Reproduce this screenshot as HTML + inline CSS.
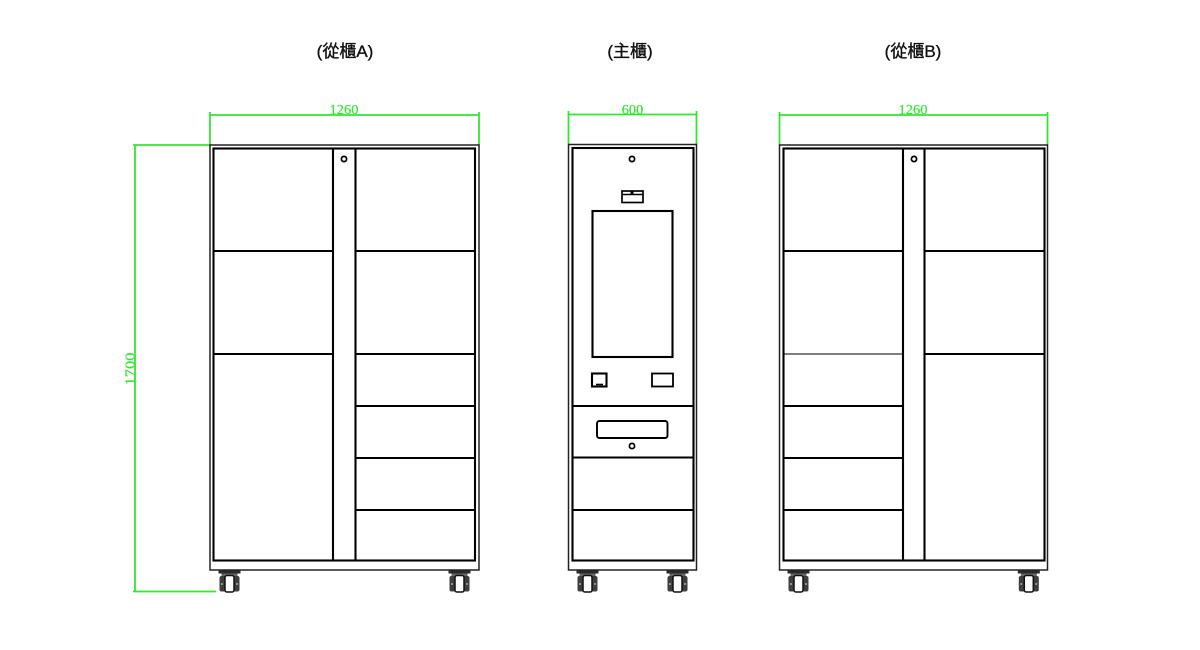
<!DOCTYPE html>
<html>
<head>
<meta charset="utf-8">
<style>
  html,body{margin:0;padding:0;background:#fff;}
  svg{display:block;}
  .t{font-family:"Liberation Sans","Noto Sans CJK TC",sans-serif;font-size:17px;fill:#111;stroke:#111;stroke-width:0.35;}
  .d{font-family:"Liberation Serif",serif;font-size:14px;fill:#33e633;stroke:#33e633;stroke-width:0.2;}
</style>
</head>
<body>
<svg width="1200" height="650" viewBox="0 0 1200 650" xmlns="http://www.w3.org/2000/svg">
  <rect width="1200" height="650" fill="#fff"/>

  <!-- Titles -->
  <text class="t" x="345" y="57" text-anchor="middle">(從櫃A)</text>
  <text class="t" x="630" y="57" text-anchor="middle">(主櫃)</text>
  <text class="t" x="913" y="57" text-anchor="middle">(從櫃B)</text>

  <!-- Green dimensions -->
  <g stroke="#33e633" stroke-width="1.8" fill="none">
    <line x1="210" y1="115" x2="479" y2="115"/>
    <line x1="210" y1="112" x2="210" y2="145"/>
    <line x1="479" y1="112" x2="479" y2="145"/>

    <line x1="568.5" y1="114.5" x2="696.5" y2="114.5"/>
    <line x1="568.5" y1="111" x2="568.5" y2="144"/>
    <line x1="696.5" y1="111" x2="696.5" y2="144"/>

    <line x1="779.5" y1="115" x2="1047.5" y2="115"/>
    <line x1="779.5" y1="112" x2="779.5" y2="145"/>
    <line x1="1047.5" y1="112" x2="1047.5" y2="145"/>

    <line x1="135" y1="145" x2="135" y2="591.5"/>
    <line x1="133" y1="145" x2="210" y2="145"/>
    <line x1="133" y1="591.5" x2="216" y2="591.5"/>
  </g>
  <text class="d" x="344" y="114" text-anchor="middle" textLength="29" lengthAdjust="spacingAndGlyphs">1260</text>
  <text class="d" x="632.5" y="114" text-anchor="middle" textLength="21.5" lengthAdjust="spacingAndGlyphs">600</text>
  <text class="d" x="913" y="114" text-anchor="middle" textLength="29" lengthAdjust="spacingAndGlyphs">1260</text>
  <text class="d" transform="translate(134.5,369) rotate(-90)" x="0" y="0" text-anchor="middle" textLength="33" lengthAdjust="spacingAndGlyphs">1700</text>

  <!-- Cabinet A -->
  <g fill="none" stroke="#000">
    <rect x="210" y="145" width="269" height="425" stroke-width="1.5" stroke="#222"/>
    <rect x="213.5" y="148.5" width="261.5" height="412" stroke-width="2.1"/>
    <line x1="333" y1="148.5" x2="333" y2="560.5" stroke-width="2.1"/>
    <line x1="355.5" y1="148.5" x2="355.5" y2="560.5" stroke-width="2.1"/>
    <circle cx="344" cy="159" r="2.6" stroke-width="1.7"/>
    <g stroke-width="1.9">
      <line x1="213.5" y1="251" x2="333" y2="251"/>
      <line x1="213.5" y1="354" x2="333" y2="354"/>
      <line x1="355.5" y1="251" x2="475" y2="251"/>
      <line x1="355.5" y1="354" x2="475" y2="354"/>
      <line x1="355.5" y1="406" x2="475" y2="406"/>
      <line x1="355.5" y1="458" x2="475" y2="458"/>
      <line x1="355.5" y1="510" x2="475" y2="510"/>
    </g>
  </g>

  <!-- Main cabinet -->
  <g fill="none" stroke="#000">
    <rect x="568.5" y="144.5" width="128" height="425.5" stroke-width="1.5" stroke="#222"/>
    <rect x="572.5" y="148" width="121" height="412.5" stroke-width="2.1"/>
    <circle cx="632" cy="159" r="2.6" stroke-width="1.7"/>
    <rect x="622" y="191" width="21" height="11.5" stroke-width="1.7"/>
    <line x1="622" y1="194.5" x2="643" y2="194.5" stroke-width="1.4"/>
    <rect x="630.5" y="191" width="3" height="3.5" fill="#000" stroke="none"/>
    <rect x="592.5" y="211" width="80" height="146" stroke-width="2.1"/>
    <rect x="592" y="373.5" width="14.5" height="13" stroke-width="2.1"/>
    <line x1="596" y1="384.5" x2="603" y2="384.5" stroke-width="1.6"/>
    <rect x="652" y="373.5" width="21" height="13" stroke-width="1.8"/>
    <g stroke-width="1.9">
      <line x1="572.5" y1="406" x2="693.5" y2="406"/>
      <line x1="572.5" y1="457.5" x2="693.5" y2="457.5"/>
      <line x1="572.5" y1="510" x2="693.5" y2="510"/>
    </g>
    <rect x="597" y="421" width="70.5" height="17" rx="2.5" stroke-width="1.9"/>
    <circle cx="632" cy="446" r="2.6" stroke-width="1.7"/>
  </g>

  <!-- Cabinet B -->
  <g fill="none" stroke="#000">
    <rect x="779.5" y="145" width="268" height="425" stroke-width="1.5" stroke="#222"/>
    <rect x="783.5" y="148.5" width="261" height="412" stroke-width="2.1"/>
    <line x1="903" y1="148.5" x2="903" y2="560.5" stroke-width="2.1"/>
    <line x1="924.5" y1="148.5" x2="924.5" y2="560.5" stroke-width="2.1"/>
    <circle cx="914" cy="159" r="2.6" stroke-width="1.7"/>
    <g stroke-width="1.9">
      <line x1="783.5" y1="251" x2="903" y2="251"/>
      <line x1="783.5" y1="354" x2="903" y2="354" stroke-width="1"/>
      <line x1="783.5" y1="406" x2="903" y2="406"/>
      <line x1="783.5" y1="458" x2="903" y2="458"/>
      <line x1="783.5" y1="510" x2="903" y2="510"/>
      <line x1="924.5" y1="251" x2="1044.5" y2="251"/>
      <line x1="924.5" y1="354" x2="1044.5" y2="354"/>
    </g>
  </g>

  <!-- Wheels -->
  <defs>
    <g id="wh">
      <rect x="-11" y="570.5" width="22" height="3" fill="#2a2a2a"/>
      <rect x="-8" y="573.5" width="16" height="3" fill="#666"/>
      <rect x="-10" y="576" width="20" height="15.5" rx="2" fill="#3e3e3e"/>
      <rect x="-4.5" y="575.5" width="9" height="16.5" rx="2" fill="#fff" stroke="#111" stroke-width="1.5"/>
      <circle cx="-7.5" cy="584" r="1" fill="#aaa"/>
      <circle cx="7.5" cy="584" r="1" fill="#aaa"/>
    </g>
  </defs>
  <use href="#wh" x="229.5"/>
  <use href="#wh" x="459.5"/>
  <use href="#wh" x="587.5"/>
  <use href="#wh" x="677.5"/>
  <use href="#wh" x="798.5"/>
  <use href="#wh" x="1028.8"/>
</svg>
</body>
</html>
